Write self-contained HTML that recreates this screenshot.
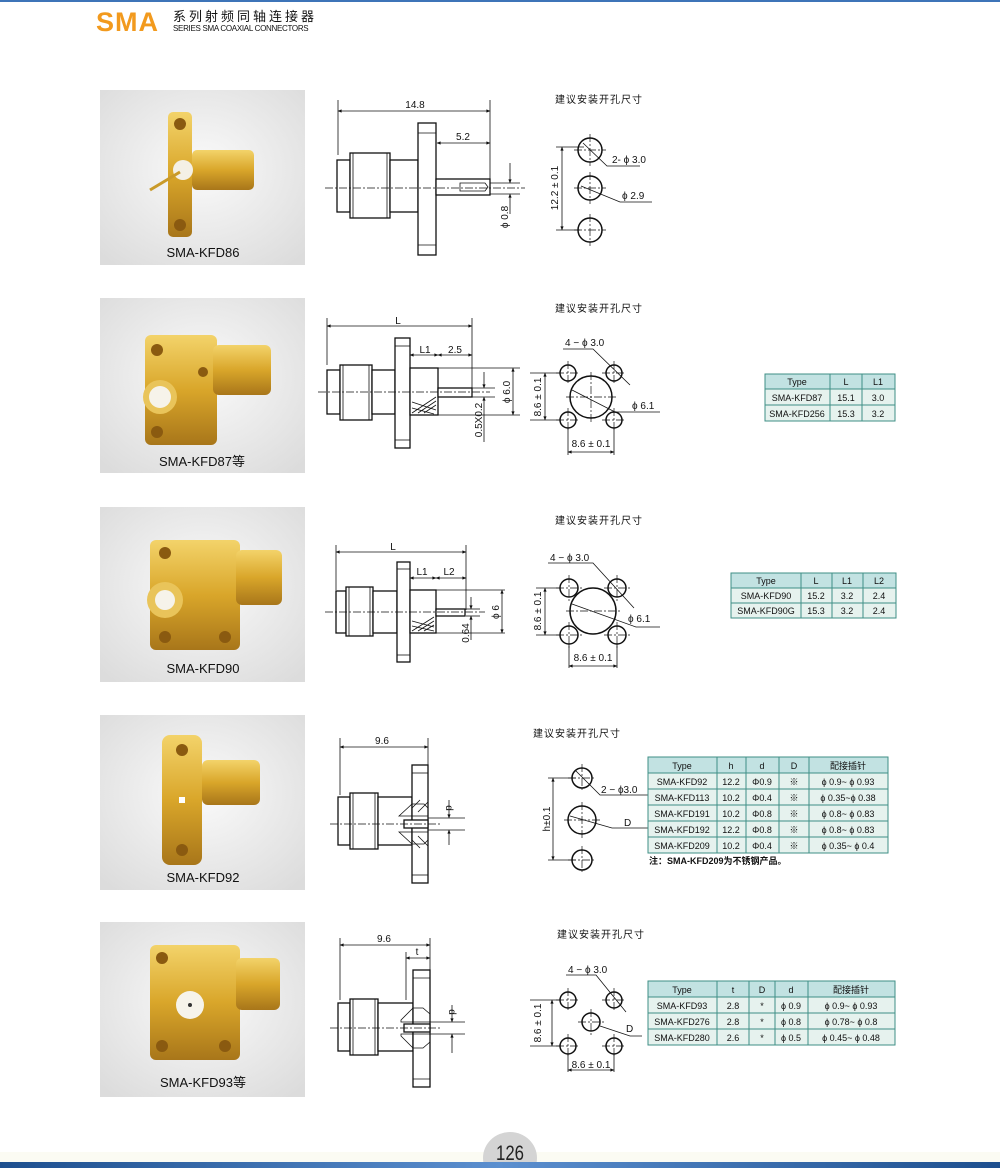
<!DOCTYPE html>
<html><head><meta charset="utf-8"><style>
html,body{margin:0;padding:0;background:#fff;}
svg{display:block;}
text{font-family:"Liberation Sans","Noto Sans CJK SC",sans-serif;fill:#111;}
.d{stroke:#111;stroke-width:1.3;fill:#fff;}
.t{stroke:#111;stroke-width:0.8;fill:none;}
.c{stroke:#111;stroke-width:0.7;fill:none;stroke-dasharray:8 2 2 2;}
.dm{stroke:#111;stroke-width:0.8;fill:none;marker-start:url(#a);marker-end:url(#a);}
.h{stroke:#111;stroke-width:1.5;fill:#fff;}
.tb rect{stroke:#3f8f86;stroke-width:1;}
.tb text{font-size:9px;text-anchor:middle;}
</style></head><body>
<svg width="1000" height="1168" viewBox="0 0 1000 1168" xmlns="http://www.w3.org/2000/svg">
<defs>
<marker id="a" viewBox="0 0 10 10" refX="9" refY="5" markerWidth="7" markerHeight="5" orient="auto-start-reverse"><path d="M0,1 L10,5 L0,9 z" fill="#111"/></marker>
<radialGradient id="bg" cx="0.5" cy="0.45" r="0.7"><stop offset="0" stop-color="#fafafa"/><stop offset="1" stop-color="#dcdcdc"/></radialGradient>
<linearGradient id="gd" x1="0" y1="0" x2="0" y2="1"><stop offset="0" stop-color="#f3d36a"/><stop offset="0.5" stop-color="#d9a62a"/><stop offset="1" stop-color="#a8761a"/></linearGradient>
<linearGradient id="bl" x1="0" y1="0" x2="1" y2="0"><stop offset="0" stop-color="#1d4f8e"/><stop offset="0.5" stop-color="#5b8fcf"/><stop offset="1" stop-color="#1d4f8e"/></linearGradient>
</defs>

<!-- header -->
<rect x="0" y="0" width="1000" height="2" fill="#3d74b8"/>
<text x="96" y="31" font-size="27" font-weight="bold" style="fill:#f29a1e" letter-spacing="1">SMA</text>
<text x="173" y="21" font-size="13" letter-spacing="3">系列射频同轴连接器</text>
<text x="173" y="31" font-size="8" letter-spacing="-0.3">SERIES SMA  COAXIAL CONNECTORS</text>

<!-- photos -->
<g>
<rect x="100" y="90" width="205" height="175" fill="url(#bg)"/>
<rect x="168" y="112" width="24" height="125" rx="5" fill="url(#gd)"/>
<circle cx="180" cy="124" r="6" fill="#8a5a10"/><circle cx="180" cy="225" r="6" fill="#8a5a10"/>
<rect x="192" y="150" width="62" height="40" rx="5" fill="url(#gd)"/>
<circle cx="183" cy="170" r="10" fill="#f4f0e6"/>
<line x1="150" y1="190" x2="180" y2="172" stroke="#c99a2a" stroke-width="3"/>
<text x="203" y="257" font-size="13" text-anchor="middle">SMA-KFD86</text>
</g>
<g>
<rect x="100" y="298" width="205" height="175" fill="url(#bg)"/>
<rect x="145" y="335" width="72" height="110" rx="6" fill="url(#gd)"/>
<circle cx="157" cy="350" r="6" fill="#8a5a10"/><circle cx="157" cy="432" r="6" fill="#8a5a10"/><circle cx="203" cy="372" r="5" fill="#8a5a10"/>
<rect x="213" y="345" width="58" height="50" rx="6" fill="url(#gd)"/>
<circle cx="160" cy="397" r="17" fill="#e9c45a"/><circle cx="160" cy="397" r="11" fill="#f6f3ea"/>
<text x="202" y="466" font-size="13" text-anchor="middle">SMA-KFD87等</text>
</g>
<g>
<rect x="100" y="507" width="205" height="175" fill="url(#bg)"/>
<rect x="150" y="540" width="90" height="110" rx="6" fill="url(#gd)"/>
<circle cx="165" cy="553" r="6" fill="#8a5a10"/><circle cx="165" cy="637" r="6" fill="#8a5a10"/><circle cx="225" cy="637" r="6" fill="#8a5a10"/>
<rect x="236" y="550" width="46" height="55" rx="6" fill="url(#gd)"/>
<circle cx="165" cy="600" r="18" fill="#e9c45a"/><circle cx="165" cy="600" r="10" fill="#f6f3ea"/>
<text x="203" y="673" font-size="13" text-anchor="middle">SMA-KFD90</text>
</g>
<g>
<rect x="100" y="715" width="205" height="175" fill="url(#bg)"/>
<rect x="162" y="735" width="40" height="130" rx="8" fill="url(#gd)"/>
<circle cx="182" cy="750" r="6" fill="#8a5a10"/><circle cx="182" cy="850" r="6" fill="#8a5a10"/>
<rect x="202" y="760" width="58" height="45" rx="6" fill="url(#gd)"/>
<rect x="179" y="797" width="6" height="6" fill="#fff"/>
<text x="203" y="882" font-size="13" text-anchor="middle">SMA-KFD92</text>
</g>
<g>
<rect x="100" y="922" width="205" height="175" fill="url(#bg)"/>
<rect x="150" y="945" width="90" height="115" rx="6" fill="url(#gd)"/>
<circle cx="162" cy="958" r="6" fill="#8a5a10"/><circle cx="162" cy="1046" r="6" fill="#8a5a10"/><circle cx="225" cy="1046" r="6" fill="#8a5a10"/>
<rect x="236" y="958" width="44" height="52" rx="6" fill="url(#gd)"/>
<circle cx="190" cy="1005" r="14" fill="#f6f3ea"/><circle cx="190" cy="1005" r="2" fill="#333"/>
<text x="203" y="1087" font-size="13" text-anchor="middle">SMA-KFD93等</text>
</g>

<!-- ROW 1 drawing -->
<g>
<line class="t" x1="338" y1="100" x2="338" y2="155"/><line class="t" x1="490" y1="100" x2="490" y2="180"/>
<line class="dm" x1="338" y1="111" x2="490" y2="111"/><text x="415" y="108" font-size="10" text-anchor="middle">14.8</text>
<line class="dm" x1="437" y1="143" x2="490" y2="143"/><text x="463" y="140" font-size="10" text-anchor="middle">5.2</text>
<rect class="d" x="337" y="160" width="13" height="52"/>
<rect class="d" x="350" y="153" width="40" height="65"/>
<line class="t" x1="353" y1="153" x2="353" y2="218"/><line class="t" x1="387" y1="153" x2="387" y2="218"/>
<rect class="d" x="390" y="160" width="28" height="52"/>
<rect class="d" x="418" y="123" width="18" height="132"/>
<line class="t" x1="418" y1="133" x2="436" y2="133"/><line class="t" x1="418" y1="245" x2="436" y2="245"/>
<rect class="d" x="436" y="179" width="54" height="16"/>
<path class="t" d="M460,183 h25 l3,4 l-3,4 h-25 z"/>
<line class="c" x1="325" y1="188" x2="525" y2="188"/>
<line class="t" x1="490" y1="183" x2="520" y2="183"/><line class="t" x1="490" y1="194" x2="520" y2="194"/>
<line class="t" x1="510" y1="163" x2="510" y2="183" marker-end="url(#a)"/><line class="t" x1="510" y1="214" x2="510" y2="194" marker-end="url(#a)"/>
<text transform="translate(508,217) rotate(-90)" font-size="10" text-anchor="middle">ϕ 0.8</text>
<text x="555" y="103" font-size="10" letter-spacing="1">建议安装开孔尺寸</text>
<circle class="h" cx="590" cy="150" r="12"/><circle class="h" cx="590" cy="188" r="12"/><circle class="h" cx="590" cy="230" r="12"/>
<line class="c" x1="574" y1="150" x2="606" y2="150"/><line class="c" x1="590" y1="134" x2="590" y2="166"/>
<line class="c" x1="574" y1="188" x2="606" y2="188"/><line class="c" x1="590" y1="172" x2="590" y2="204"/>
<line class="c" x1="574" y1="230" x2="606" y2="230"/><line class="c" x1="590" y1="214" x2="590" y2="246"/>
<line class="t" x1="556" y1="147" x2="584" y2="147"/><line class="t" x1="556" y1="230" x2="580" y2="230"/>
<line class="dm" x1="562" y1="147" x2="562" y2="230"/>
<text transform="translate(558,188) rotate(-90)" font-size="10" text-anchor="middle">12.2 ± 0.1</text>
<polyline class="t" points="583,143 607,166 640,166"/><text x="612" y="163" font-size="10">2- ϕ 3.0</text>
<polyline class="t" points="581,186 620,202 652,202"/><text x="622" y="199" font-size="10">ϕ 2.9</text>
</g>

<!-- ROW 2 drawing -->
<g>
<line class="t" x1="327" y1="318" x2="327" y2="365"/><line class="t" x1="472" y1="318" x2="472" y2="390"/>
<line class="dm" x1="327" y1="326" x2="472" y2="326"/><text x="398" y="324" font-size="10" text-anchor="middle">L</text>
<line class="dm" x1="410" y1="355" x2="438" y2="355"/><text x="425" y="353" font-size="10" text-anchor="middle">L1</text>
<line class="dm" x1="438" y1="355" x2="472" y2="355"/><text x="455" y="353" font-size="10" text-anchor="middle">2.5</text>
<rect class="d" x="327" y="370" width="13" height="44"/>
<rect class="d" x="340" y="365" width="32" height="55"/>
<line class="t" x1="343" y1="365" x2="343" y2="420"/><line class="t" x1="369" y1="365" x2="369" y2="420"/>
<rect class="d" x="372" y="370" width="23" height="44"/>
<rect class="d" x="395" y="338" width="15" height="110"/>
<line class="t" x1="395" y1="346" x2="410" y2="346"/><line class="t" x1="395" y1="440" x2="410" y2="440"/>
<rect class="d" x="410" y="368" width="28" height="47"/>
<path class="t" d="M412,413 l24,-16 M418,413 l18,-12 M424,413 l12,-8 M412,408 l22,6 M412,402 l24,8"/>
<rect class="d" x="438" y="388" width="34" height="9"/>
<line class="c" x1="318" y1="392" x2="490" y2="392"/>
<line class="t" x1="438" y1="368" x2="520" y2="368"/><line class="t" x1="438" y1="415" x2="520" y2="415"/>
<line class="t" x1="472" y1="388" x2="495" y2="388"/><line class="t" x1="472" y1="397" x2="495" y2="397"/>
<line class="dm" x1="513" y1="368" x2="513" y2="415"/>
<text transform="translate(510,392) rotate(-90)" font-size="10" text-anchor="middle">ϕ 6.0</text>
<line class="t" x1="484" y1="372" x2="484" y2="388" marker-end="url(#a)"/><line class="t" x1="484" y1="442" x2="484" y2="397" marker-end="url(#a)"/>
<text transform="translate(482,420) rotate(-90)" font-size="10" text-anchor="middle">0.5X0.2</text>
<text x="555" y="312" font-size="10" letter-spacing="1">建议安装开孔尺寸</text>
<circle class="h" cx="568" cy="373" r="8"/><circle class="h" cx="614" cy="373" r="8"/><circle class="h" cx="568" cy="420" r="8"/><circle class="h" cx="614" cy="420" r="8"/>
<circle class="h" cx="591" cy="397" r="21"/>
<line class="c" x1="556" y1="373" x2="580" y2="373"/><line class="c" x1="568" y1="361" x2="568" y2="385"/>
<line class="c" x1="602" y1="373" x2="626" y2="373"/><line class="c" x1="614" y1="361" x2="614" y2="385"/>
<line class="c" x1="556" y1="420" x2="580" y2="420"/><line class="c" x1="568" y1="408" x2="568" y2="432"/>
<line class="c" x1="602" y1="420" x2="626" y2="420"/><line class="c" x1="614" y1="408" x2="614" y2="432"/>
<line class="c" x1="566" y1="397" x2="616" y2="397"/><line class="c" x1="591" y1="372" x2="591" y2="422"/>
<line class="t" x1="530" y1="373" x2="560" y2="373"/><line class="t" x1="530" y1="420" x2="560" y2="420"/>
<line class="dm" x1="545" y1="373" x2="545" y2="420"/>
<text transform="translate(541,397) rotate(-90)" font-size="10" text-anchor="middle">8.6 ± 0.1</text>
<line class="t" x1="568" y1="428" x2="568" y2="455"/><line class="t" x1="614" y1="428" x2="614" y2="455"/>
<line class="dm" x1="568" y1="452" x2="614" y2="452"/><text x="591" y="447" font-size="10" text-anchor="middle">8.6 ± 0.1</text>
<polyline class="t" points="563,349 593,349 630,385"/><text x="565" y="346" font-size="10">4 − ϕ 3.0</text>
<polyline class="t" points="572,390 615,412 660,412"/><text x="632" y="409" font-size="10">ϕ 6.1</text>
</g>
<g class="tb">
<rect x="765" y="374" width="65" height="15" fill="#c2e2e2"/><rect x="830" y="374" width="32" height="15" fill="#c2e2e2"/><rect x="862" y="374" width="33" height="15" fill="#c2e2e2"/>
<rect x="765" y="389" width="65" height="16" fill="#e6f2ee"/><rect x="830" y="389" width="32" height="16" fill="#e6f2ee"/><rect x="862" y="389" width="33" height="16" fill="#e6f2ee"/>
<rect x="765" y="405" width="65" height="16" fill="#e6f2ee"/><rect x="830" y="405" width="32" height="16" fill="#e6f2ee"/><rect x="862" y="405" width="33" height="16" fill="#e6f2ee"/>
<text x="797" y="385">Type</text><text x="846" y="385">L</text><text x="878" y="385">L1</text>
<text x="797" y="401">SMA-KFD87</text><text x="846" y="401">15.1</text><text x="878" y="401">3.0</text>
<text x="797" y="417">SMA-KFD256</text><text x="846" y="417">15.3</text><text x="878" y="417">3.2</text>
</g>

<!-- ROW 3 drawing -->
<g>
<line class="t" x1="336" y1="545" x2="336" y2="590"/><line class="t" x1="466" y1="545" x2="466" y2="610"/>
<line class="dm" x1="336" y1="552" x2="466" y2="552"/><text x="393" y="550" font-size="10" text-anchor="middle">L</text>
<line class="dm" x1="410" y1="578" x2="436" y2="578"/><text x="422" y="575" font-size="10" text-anchor="middle">L1</text>
<line class="dm" x1="436" y1="578" x2="466" y2="578"/><text x="449" y="575" font-size="10" text-anchor="middle">L2</text>
<rect class="d" x="336" y="591" width="10" height="42"/>
<rect class="d" x="346" y="587" width="27" height="49"/>
<line class="t" x1="349" y1="587" x2="349" y2="636"/><line class="t" x1="370" y1="587" x2="370" y2="636"/>
<rect class="d" x="373" y="591" width="24" height="42"/>
<rect class="d" x="397" y="562" width="13" height="100"/>
<line class="t" x1="397" y1="569" x2="410" y2="569"/><line class="t" x1="397" y1="655" x2="410" y2="655"/>
<rect class="d" x="410" y="590" width="26" height="43"/>
<path class="t" d="M412,631 l22,-14 M418,631 l16,-10 M424,631 l10,-6 M412,626 l22,5 M412,621 l22,6"/>
<rect class="d" x="436" y="609" width="29" height="7"/>
<line class="c" x1="325" y1="612" x2="485" y2="612"/>
<line class="t" x1="436" y1="590" x2="505" y2="590"/><line class="t" x1="436" y1="633" x2="505" y2="633"/>
<line class="t" x1="466" y1="609" x2="480" y2="609"/><line class="t" x1="466" y1="616" x2="480" y2="616"/>
<line class="dm" x1="502" y1="590" x2="502" y2="633"/>
<text transform="translate(499,612) rotate(-90)" font-size="10" text-anchor="middle">ϕ 6</text>
<line class="t" x1="471" y1="597" x2="471" y2="609" marker-end="url(#a)"/><line class="t" x1="471" y1="640" x2="471" y2="616" marker-end="url(#a)"/>
<text transform="translate(469,633) rotate(-90)" font-size="10" text-anchor="middle">0.64</text>
<text x="555" y="524" font-size="10" letter-spacing="1">建议安装开孔尺寸</text>
<circle class="h" cx="569" cy="588" r="9"/><circle class="h" cx="617" cy="588" r="9"/><circle class="h" cx="569" cy="635" r="9"/><circle class="h" cx="617" cy="635" r="9"/>
<circle class="h" cx="593" cy="611" r="23"/>
<line class="c" x1="556" y1="588" x2="582" y2="588"/><line class="c" x1="569" y1="575" x2="569" y2="601"/>
<line class="c" x1="604" y1="588" x2="630" y2="588"/><line class="c" x1="617" y1="575" x2="617" y2="601"/>
<line class="c" x1="556" y1="635" x2="582" y2="635"/><line class="c" x1="569" y1="622" x2="569" y2="648"/>
<line class="c" x1="604" y1="635" x2="630" y2="635"/><line class="c" x1="617" y1="622" x2="617" y2="648"/>
<line class="c" x1="566" y1="611" x2="620" y2="611"/>
<line class="t" x1="536" y1="588" x2="560" y2="588"/><line class="t" x1="536" y1="635" x2="560" y2="635"/>
<line class="dm" x1="545" y1="588" x2="545" y2="635"/>
<text transform="translate(541,611) rotate(-90)" font-size="10" text-anchor="middle">8.6 ± 0.1</text>
<line class="t" x1="569" y1="644" x2="569" y2="668"/><line class="t" x1="617" y1="644" x2="617" y2="668"/>
<line class="dm" x1="569" y1="666" x2="617" y2="666"/><text x="593" y="661" font-size="10" text-anchor="middle">8.6 ± 0.1</text>
<polyline class="t" points="548,563 593,563 634,608"/><text x="550" y="561" font-size="10">4 − ϕ 3.0</text>
<polyline class="t" points="572,604 636,627 660,627"/><text x="628" y="622" font-size="10">ϕ 6.1</text>
</g>
<g class="tb">
<rect x="731" y="573" width="70" height="15" fill="#c2e2e2"/><rect x="801" y="573" width="31" height="15" fill="#c2e2e2"/><rect x="832" y="573" width="31" height="15" fill="#c2e2e2"/><rect x="863" y="573" width="33" height="15" fill="#c2e2e2"/>
<rect x="731" y="588" width="70" height="15" fill="#e6f2ee"/><rect x="801" y="588" width="31" height="15" fill="#e6f2ee"/><rect x="832" y="588" width="31" height="15" fill="#e6f2ee"/><rect x="863" y="588" width="33" height="15" fill="#e6f2ee"/>
<rect x="731" y="603" width="70" height="15" fill="#e6f2ee"/><rect x="801" y="603" width="31" height="15" fill="#e6f2ee"/><rect x="832" y="603" width="31" height="15" fill="#e6f2ee"/><rect x="863" y="603" width="33" height="15" fill="#e6f2ee"/>
<text x="766" y="584">Type</text><text x="816" y="584">L</text><text x="847" y="584">L1</text><text x="879" y="584">L2</text>
<text x="766" y="599">SMA-KFD90</text><text x="816" y="599">15.2</text><text x="847" y="599">3.2</text><text x="879" y="599">2.4</text>
<text x="766" y="614">SMA-KFD90G</text><text x="816" y="614">15.3</text><text x="847" y="614">3.2</text><text x="879" y="614">2.4</text>
</g>

<!-- ROW 4 drawing -->
<g>
<line class="t" x1="340" y1="738" x2="340" y2="795"/><line class="t" x1="428" y1="738" x2="428" y2="765"/>
<line class="dm" x1="340" y1="747" x2="428" y2="747"/><text x="382" y="744" font-size="10" text-anchor="middle">9.6</text>
<rect class="d" x="338" y="797" width="12" height="48"/>
<rect class="d" x="350" y="793" width="28" height="56"/>
<line class="t" x1="353" y1="793" x2="353" y2="849"/><line class="t" x1="375" y1="793" x2="375" y2="849"/>
<rect class="d" x="378" y="797" width="34" height="48"/>
<rect class="d" x="412" y="765" width="16" height="118"/>
<line class="t" x1="412" y1="773" x2="428" y2="773"/><line class="t" x1="412" y1="875" x2="428" y2="875"/>
<path class="t" d="M399,816 l13,-12 h12 l4,4 v8 h-24 z M399,832 l13,12 h12 l4,-4 v-8 h-24 z"/>
<path class="t" d="M412,808 l8,-8 M418,812 l10,-10 M412,840 l8,8 M418,836 l10,10"/>
<rect class="d" x="404" y="820" width="24" height="8"/>
<line class="c" x1="330" y1="824" x2="440" y2="824"/>
<line class="t" x1="428" y1="818" x2="465" y2="818"/><line class="t" x1="428" y1="830" x2="465" y2="830"/>
<line class="t" x1="449" y1="800" x2="449" y2="818" marker-end="url(#a)"/><line class="t" x1="449" y1="845" x2="449" y2="830" marker-end="url(#a)"/>
<text transform="translate(446,808) rotate(90)" font-size="10" text-anchor="middle">d</text>
<text x="533" y="737" font-size="10" letter-spacing="1">建议安装开孔尺寸</text>
<circle class="h" cx="582" cy="778" r="10"/><circle class="h" cx="582" cy="820" r="14"/><circle class="h" cx="582" cy="860" r="10"/>
<line class="c" x1="568" y1="778" x2="596" y2="778"/><line class="c" x1="582" y1="764" x2="582" y2="792"/>
<line class="c" x1="564" y1="820" x2="600" y2="820"/><line class="c" x1="582" y1="802" x2="582" y2="838"/>
<line class="c" x1="568" y1="860" x2="596" y2="860"/><line class="c" x1="582" y1="846" x2="582" y2="874"/>
<line class="t" x1="548" y1="778" x2="576" y2="778"/><line class="t" x1="548" y1="860" x2="576" y2="860"/>
<line class="dm" x1="553" y1="778" x2="553" y2="860"/>
<text transform="translate(550,819) rotate(-90)" font-size="10" text-anchor="middle">h±0.1</text>
<polyline class="t" points="575,770 600,795 648,795"/><text x="601" y="793" font-size="10">2 − ϕ3.0</text>
<polyline class="t" points="570,816 612,828 648,828"/><text x="624" y="826" font-size="10">D</text>
</g>
<g class="tb">
<rect x="648" y="757" width="69" height="16" fill="#c2e2e2"/><rect x="717" y="757" width="29" height="16" fill="#c2e2e2"/><rect x="746" y="757" width="33" height="16" fill="#c2e2e2"/><rect x="779" y="757" width="30" height="16" fill="#c2e2e2"/><rect x="809" y="757" width="79" height="16" fill="#c2e2e2"/>
<rect x="648" y="773" width="69" height="16" fill="#e6f2ee"/><rect x="717" y="773" width="29" height="16" fill="#e6f2ee"/><rect x="746" y="773" width="33" height="16" fill="#e6f2ee"/><rect x="779" y="773" width="30" height="16" fill="#e6f2ee"/><rect x="809" y="773" width="79" height="16" fill="#e6f2ee"/>
<rect x="648" y="789" width="69" height="16" fill="#e6f2ee"/><rect x="717" y="789" width="29" height="16" fill="#e6f2ee"/><rect x="746" y="789" width="33" height="16" fill="#e6f2ee"/><rect x="779" y="789" width="30" height="16" fill="#e6f2ee"/><rect x="809" y="789" width="79" height="16" fill="#e6f2ee"/>
<rect x="648" y="805" width="69" height="16" fill="#e6f2ee"/><rect x="717" y="805" width="29" height="16" fill="#e6f2ee"/><rect x="746" y="805" width="33" height="16" fill="#e6f2ee"/><rect x="779" y="805" width="30" height="16" fill="#e6f2ee"/><rect x="809" y="805" width="79" height="16" fill="#e6f2ee"/>
<rect x="648" y="821" width="69" height="16" fill="#e6f2ee"/><rect x="717" y="821" width="29" height="16" fill="#e6f2ee"/><rect x="746" y="821" width="33" height="16" fill="#e6f2ee"/><rect x="779" y="821" width="30" height="16" fill="#e6f2ee"/><rect x="809" y="821" width="79" height="16" fill="#e6f2ee"/>
<rect x="648" y="837" width="69" height="16" fill="#e6f2ee"/><rect x="717" y="837" width="29" height="16" fill="#e6f2ee"/><rect x="746" y="837" width="33" height="16" fill="#e6f2ee"/><rect x="779" y="837" width="30" height="16" fill="#e6f2ee"/><rect x="809" y="837" width="79" height="16" fill="#e6f2ee"/>
<text x="682" y="769">Type</text><text x="731" y="769">h</text><text x="762" y="769">d</text><text x="794" y="769">D</text><text x="848" y="769">配接插针</text>
<text x="682" y="785">SMA-KFD92</text><text x="731" y="785">12.2</text><text x="762" y="785">Φ0.9</text><text x="794" y="785">※</text><text x="848" y="785">ϕ 0.9~ ϕ 0.93</text>
<text x="682" y="801">SMA-KFD113</text><text x="731" y="801">10.2</text><text x="762" y="801">Φ0.4</text><text x="794" y="801">※</text><text x="848" y="801">ϕ 0.35~ϕ 0.38</text>
<text x="682" y="817">SMA-KFD191</text><text x="731" y="817">10.2</text><text x="762" y="817">Φ0.8</text><text x="794" y="817">※</text><text x="848" y="817">ϕ 0.8~ ϕ 0.83</text>
<text x="682" y="833">SMA-KFD192</text><text x="731" y="833">12.2</text><text x="762" y="833">Φ0.8</text><text x="794" y="833">※</text><text x="848" y="833">ϕ 0.8~ ϕ 0.83</text>
<text x="682" y="849">SMA-KFD209</text><text x="731" y="849">10.2</text><text x="762" y="849">Φ0.4</text><text x="794" y="849">※</text><text x="848" y="849">ϕ 0.35~ ϕ 0.4</text>
</g>
<text x="649" y="864" font-size="9" font-weight="bold">注：SMA-KFD209为不锈钢产品。</text>

<!-- ROW 5 drawing -->
<g>
<line class="t" x1="340" y1="938" x2="340" y2="1000"/><line class="t" x1="430" y1="938" x2="430" y2="970"/>
<line class="dm" x1="340" y1="945" x2="430" y2="945"/><text x="384" y="942" font-size="10" text-anchor="middle">9.6</text>
<line class="t" x1="406" y1="952" x2="406" y2="1000"/>
<line class="dm" x1="406" y1="958" x2="430" y2="958"/><text x="417" y="955" font-size="10" text-anchor="middle">t</text>
<rect class="d" x="338" y="1003" width="12" height="48"/>
<rect class="d" x="350" y="999" width="28" height="56"/>
<line class="t" x1="353" y1="999" x2="353" y2="1055"/><line class="t" x1="375" y1="999" x2="375" y2="1055"/>
<rect class="d" x="378" y="1003" width="35" height="48"/>
<rect class="d" x="413" y="970" width="17" height="117"/>
<line class="t" x1="413" y1="978" x2="430" y2="978"/><line class="t" x1="413" y1="1079" x2="430" y2="1079"/>
<path class="t" d="M401,1020 l12,-12 h10 l7,6 v8 h-29 z M401,1036 l12,12 h10 l7,-6 v-8 h-29 z"/>
<rect class="d" x="404" y="1024" width="26" height="8"/>
<line class="c" x1="330" y1="1028" x2="440" y2="1028"/>
<line class="t" x1="430" y1="1022" x2="465" y2="1022"/><line class="t" x1="430" y1="1034" x2="465" y2="1034"/>
<line class="t" x1="452" y1="1005" x2="452" y2="1022" marker-end="url(#a)"/><line class="t" x1="452" y1="1053" x2="452" y2="1034" marker-end="url(#a)"/>
<text transform="translate(449,1012) rotate(90)" font-size="10" text-anchor="middle">d</text>
<text x="557" y="938" font-size="10" letter-spacing="1">建议安装开孔尺寸</text>
<circle class="h" cx="568" cy="1000" r="8"/><circle class="h" cx="614" cy="1000" r="8"/><circle class="h" cx="591" cy="1022" r="9"/><circle class="h" cx="568" cy="1046" r="8"/><circle class="h" cx="614" cy="1046" r="8"/>
<line class="c" x1="556" y1="1000" x2="580" y2="1000"/><line class="c" x1="568" y1="988" x2="568" y2="1012"/>
<line class="c" x1="602" y1="1000" x2="626" y2="1000"/><line class="c" x1="614" y1="988" x2="614" y2="1012"/>
<line class="c" x1="578" y1="1022" x2="604" y2="1022"/><line class="c" x1="591" y1="1009" x2="591" y2="1035"/>
<line class="c" x1="556" y1="1046" x2="580" y2="1046"/><line class="c" x1="568" y1="1034" x2="568" y2="1058"/>
<line class="c" x1="602" y1="1046" x2="626" y2="1046"/><line class="c" x1="614" y1="1034" x2="614" y2="1058"/>
<line class="t" x1="530" y1="1000" x2="560" y2="1000"/><line class="t" x1="530" y1="1046" x2="560" y2="1046"/>
<line class="dm" x1="552" y1="1000" x2="552" y2="1046"/>
<text transform="translate(541,1023) rotate(-90)" font-size="10" text-anchor="middle">8.6 ± 0.1</text>
<line class="t" x1="568" y1="1054" x2="568" y2="1072"/><line class="t" x1="614" y1="1054" x2="614" y2="1072"/>
<line class="dm" x1="568" y1="1070" x2="614" y2="1070"/><text x="591" y="1068" font-size="10" text-anchor="middle">8.6 ± 0.1</text>
<polyline class="t" points="566,975 596,975 626,1012"/><text x="568" y="973" font-size="10">4 − ϕ 3.0</text>
<polyline class="t" points="600,1026 630,1036 642,1036"/><text x="626" y="1032" font-size="10">D</text>
</g>
<g class="tb">
<rect x="648" y="981" width="69" height="16" fill="#c2e2e2"/><rect x="717" y="981" width="32" height="16" fill="#c2e2e2"/><rect x="749" y="981" width="26" height="16" fill="#c2e2e2"/><rect x="775" y="981" width="33" height="16" fill="#c2e2e2"/><rect x="808" y="981" width="87" height="16" fill="#c2e2e2"/>
<rect x="648" y="997" width="69" height="16" fill="#e6f2ee"/><rect x="717" y="997" width="32" height="16" fill="#e6f2ee"/><rect x="749" y="997" width="26" height="16" fill="#e6f2ee"/><rect x="775" y="997" width="33" height="16" fill="#e6f2ee"/><rect x="808" y="997" width="87" height="16" fill="#e6f2ee"/>
<rect x="648" y="1013" width="69" height="16" fill="#e6f2ee"/><rect x="717" y="1013" width="32" height="16" fill="#e6f2ee"/><rect x="749" y="1013" width="26" height="16" fill="#e6f2ee"/><rect x="775" y="1013" width="33" height="16" fill="#e6f2ee"/><rect x="808" y="1013" width="87" height="16" fill="#e6f2ee"/>
<rect x="648" y="1029" width="69" height="16" fill="#e6f2ee"/><rect x="717" y="1029" width="32" height="16" fill="#e6f2ee"/><rect x="749" y="1029" width="26" height="16" fill="#e6f2ee"/><rect x="775" y="1029" width="33" height="16" fill="#e6f2ee"/><rect x="808" y="1029" width="87" height="16" fill="#e6f2ee"/>
<text x="682" y="993">Type</text><text x="733" y="993">t</text><text x="762" y="993">D</text><text x="791" y="993">d</text><text x="851" y="993">配接插针</text>
<text x="682" y="1009">SMA-KFD93</text><text x="733" y="1009">2.8</text><text x="762" y="1009">*</text><text x="791" y="1009">ϕ 0.9</text><text x="851" y="1009">ϕ 0.9~ ϕ 0.93</text>
<text x="682" y="1025">SMA-KFD276</text><text x="733" y="1025">2.8</text><text x="762" y="1025">*</text><text x="791" y="1025">ϕ 0.8</text><text x="851" y="1025">ϕ 0.78~ ϕ 0.8</text>
<text x="682" y="1041">SMA-KFD280</text><text x="733" y="1041">2.6</text><text x="762" y="1041">*</text><text x="791" y="1041">ϕ 0.5</text><text x="851" y="1041">ϕ 0.45~ ϕ 0.48</text>
</g>

<!-- footer -->
<rect x="0" y="1152" width="1000" height="10" fill="#fbfbf3"/>
<ellipse cx="510" cy="1158" rx="27" ry="26" fill="#d4d4d4"/>
<rect x="0" y="1162" width="1000" height="6" fill="url(#bl)"/>
<text x="510" y="1160" font-size="21" text-anchor="middle" style="fill:#222" transform="translate(510,0) scale(0.8,1) translate(-510,0)">126</text>
</svg>
</body></html>
